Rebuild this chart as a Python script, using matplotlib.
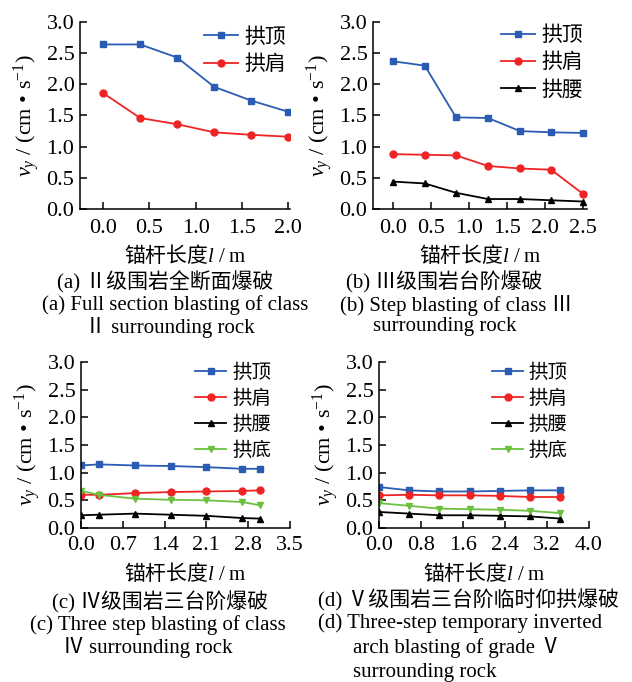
import matplotlib
matplotlib.use("Agg")
import matplotlib.pyplot as plt

plt.rcParams["font.family"] = ["Liberation Serif", "Noto Sans CJK SC"]
plt.rcParams["mathtext.fontset"] = "custom"
plt.rcParams["mathtext.rm"] = "Liberation Serif"
plt.rcParams["mathtext.it"] = "Liberation Serif:italic"
plt.rcParams["axes.unicode_minus"] = True

# data
x_a = [0.0, 0.4, 0.8, 1.2, 1.6, 2.0]
top_a = [2.64, 2.64, 2.43, 1.96, 1.74, 1.56]
shoulder_a = [1.86, 1.46, 1.36, 1.23, 1.19, 1.16]

x_b = [0.0, 0.42, 0.83, 1.25, 1.67, 2.08, 2.5]
top_b = [2.37, 2.30, 1.47, 1.46, 1.25, 1.23, 1.22]
shoulder_b = [0.88, 0.87, 0.86, 0.69, 0.65, 0.63, 0.24]
waist_b = [0.44, 0.41, 0.26, 0.16, 0.16, 0.14, 0.12]

x_c = [0.0, 0.3, 0.9, 1.5, 2.1, 2.7, 3.0]
top_c = [1.13, 1.15, 1.13, 1.12, 1.10, 1.07, 1.07]
shoulder_c = [0.60, 0.60, 0.63, 0.65, 0.66, 0.67, 0.68]
waist_c = [0.23, 0.24, 0.26, 0.24, 0.22, 0.18, 0.17]
bottom_c = [0.67, 0.60, 0.53, 0.51, 0.50, 0.47, 0.41]

x_d = [0.0, 0.58, 1.15, 1.73, 2.3, 2.88, 3.45]
top_d = [0.74, 0.68, 0.66, 0.66, 0.67, 0.68, 0.68]
shoulder_d = [0.59, 0.60, 0.59, 0.59, 0.58, 0.56, 0.56]
waist_d = [0.29, 0.26, 0.23, 0.23, 0.22, 0.21, 0.17]
bottom_d = [0.45, 0.40, 0.35, 0.34, 0.33, 0.31, 0.27]

names = ["拱顶", "拱肩", "拱腰", "拱底"]
colors = ["#2b5cb3", "#ee2424", "#000000", "#6cc040"]
markers = ["s", "o", "^", "v"]

yticks = [0.0, 0.5, 1.0, 1.5, 2.0, 2.5, 3.0]

W, H = 632, 682
fig = plt.figure(figsize=(W / 100, H / 100), dpi=100)


def pix_axes(l, t, r, b):
    return fig.add_axes([l / W, 1 - b / H, (r - l) / W, (b - t) / H])


def style(ax, xlim, xticks, xpad):
    ax.set_xlim(*xlim)
    ax.set_ylim(0, 3.0)
    ax.set_xticks(xticks)
    ax.set_xticklabels([f"{v:.1f}" for v in xticks])
    ax.set_yticks(yticks)
    ax.set_yticklabels([f"{v:.1f}" for v in yticks])
    for s in ["top", "right"]:
        ax.spines[s].set_visible(False)
    for s in ["left", "bottom"]:
        ax.spines[s].set_linewidth(1.1)
    ax.tick_params(direction="in", length=5, width=1.1, labelsize=16)
    ax.tick_params(axis="y", pad=4)
    ax.tick_params(axis="x", pad=xpad)
    ax.set_xlabel(r"锚杆长度$\mathit{l}\ /\ \mathrm{m}$", fontsize=15,
                  family="Noto Sans CJK SC", labelpad=4)
    ax.set_ylabel(r"$v_y$ / (cm • s$^{-1}$)", fontsize=16, labelpad=3)


def draw(ax, x, series, leg_xy, fs):
    for i, y in enumerate(series):
        ax.plot(x, y, color=colors[i], marker=markers[i], markersize=5,
                linewidth=1.3, label=names[i])
    ax.legend(loc="upper right", bbox_to_anchor=leg_xy, frameon=False,
              prop={"family": "Noto Sans CJK SC", "size": fs},
              handlelength=1.6, handletextpad=0.3, labelspacing=0.25,
              borderaxespad=0, borderpad=0)


ax_a = pix_axes(80, 22, 290, 209)
draw(ax_a, x_a, [top_a, shoulder_a], (0.98, 0.98), 15)
style(ax_a, (-0.25, 2.02), [0.0, 0.5, 1.0, 1.5, 2.0], 7)

ax_b = pix_axes(373, 22, 587, 209)
draw(ax_b, x_b, [top_b, shoulder_b, waist_b], (0.98, 0.99), 15)
style(ax_b, (-0.26, 2.55), [0.0, 0.5, 1.0, 1.5, 2.0, 2.5], 7)

ax_c = pix_axes(81, 362, 290, 528)
draw(ax_c, x_c, [top_c, shoulder_c, waist_c, bottom_c], (0.91, 1.0), 14)
style(ax_c, (0, 3.5), [0.0, 0.7, 1.4, 2.1, 2.8, 3.5], 6)

ax_d = pix_axes(379, 362, 589, 528)
draw(ax_d, x_d, [top_d, shoulder_d, waist_d, bottom_d], (0.90, 1.0), 14)
style(ax_d, (0, 4.0), [0.0, 0.8, 1.6, 2.4, 3.2, 4.0], 6)

captions = [
    (57, 282, "(a) Ⅱ级围岩全断面爆破"),
    (42, 305, "(a) Full section blasting of class"),
    (85, 327, "Ⅱ surrounding rock"),
    (346, 282, "(b) Ⅲ级围岩台阶爆破"),
    (340, 305, "(b) Step blasting of class Ⅲ"),
    (373, 327, "surrounding rock"),
    (52, 602, "(c) Ⅳ级围岩三台阶爆破"),
    (30, 625, "(c) Three step blasting of class"),
    (63, 648, "Ⅳ surrounding rock"),
    (318, 600, "(d) Ⅴ级围岩三台阶临时仰拱爆破"),
    (318, 623, "(d) Three-step temporary inverted"),
    (353, 648, "arch blasting of grade Ⅴ"),
    (353, 672, "surrounding rock"),
]
for cx, cy, txt in captions:
    fig.text(cx / W, 1 - cy / H, txt, fontsize=15, ha="left", va="center")

fig.savefig("out.png", dpi=100)
